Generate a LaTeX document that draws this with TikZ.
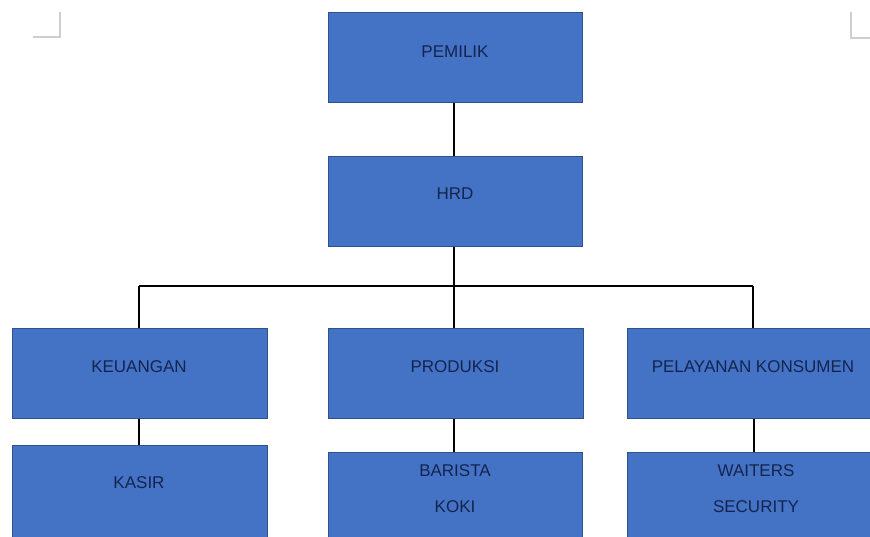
\documentclass[tikz,border=0pt]{standalone}
\usepackage{fontspec}
\setmainfont{Liberation Sans}
\definecolor{boxblue}{HTML}{4472C4}
\definecolor{boxedge}{HTML}{2F528F}
\definecolor{txtnavy}{HTML}{13254F}
\definecolor{markgray}{HTML}{CFCFCF}
\begin{document}
\begin{tikzpicture}[x=1pt,y=-1pt,
  box/.style={draw=boxedge,line width=1pt,fill=boxblue,inner sep=0pt,anchor=north west},
  lbl/.style={text=txtnavy,font=\fontsize{17}{20}\selectfont,inner sep=0pt},
  conn/.style={draw=black,line width=2pt},
  cornermark/.style={draw=markgray,line width=1.5pt}]
\useasboundingbox (0,0) rectangle (870,536);
\clip (0,0) rectangle (870,536);
\fill[white] (0,0) rectangle (870,536);
% page corner marks
\coordinate (tl1) at (60,12);
\coordinate (tl2) at (60,37);
\coordinate (tl3) at (33,37);
\coordinate (tr1) at (851,12);
\coordinate (tr2) at (851,38);
\coordinate (tr3) at (872,38);
\draw[cornermark] (tl1) -- (tl2) -- (tl3);
\draw[cornermark] (tr1) -- (tr2) -- (tr3);
% boxes
\node[box,minimum width=254pt,minimum height=90pt] (pemilik) at (328,12) {};
\node[box,minimum width=254pt,minimum height=90pt] (hrd) at (328,156) {};
\node[box,minimum width=255pt,minimum height=90pt] (keu) at (12,328) {};
\node[box,minimum width=255pt,minimum height=90pt] (prod) at (328,328) {};
\node[box,minimum width=260pt,minimum height=90pt] (pel) at (627,328) {};
\node[box,minimum width=255pt,minimum height=100pt] (kasir) at (12,445) {};
\node[box,minimum width=254pt,minimum height=100pt] (bar) at (328,452) {};
\node[box,minimum width=260pt,minimum height=100pt] (wait) at (627,452) {};
% labels
\node[lbl] (tpemilik) at (455,52) {PEMILIK};
\node[lbl] (thrd) at (455,194) {HRD};
\node[lbl] (tkeu) at (139,367) {KEUANGAN};
\node[lbl] (tprod) at (455,367) {PRODUKSI};
\node[lbl] (tpel) at (753,367) {PELAYANAN KONSUMEN};
\node[lbl] (tkasir) at (139,483) {KASIR};
\node[lbl] (tbar) at (455,471) {BARISTA};
\node[lbl] (tkoki) at (455,507) {KOKI};
\node[lbl] (twait) at (756,471) {WAITERS};
\node[lbl] (tsec) at (756,507) {SECURITY};
% connectors
\coordinate (bus) at (454,286);
\coordinate (busL) at (139,286);
\coordinate (busR) at (753,286);
\coordinate (pelx) at (754,0);
\draw[conn] (pemilik.south -| bus) -- (hrd.north -| bus);
\draw[conn] (hrd.south -| bus) -- (prod.north -| bus);
\draw[conn] (busL) -- (busR);
\draw[conn] (busL) -- (keu.north -| busL);
\draw[conn] (busR) -- (pel.north -| busR);
\draw[conn,line width=1.5pt] (keu.south -| busL) -- (kasir.north -| busL);
\draw[conn,line width=1.5pt] (prod.south -| bus) -- (bar.north -| bus);
\draw[conn,line width=1.5pt] (pel.south -| pelx) -- (wait.north -| pelx);
\end{tikzpicture}
\end{document}
